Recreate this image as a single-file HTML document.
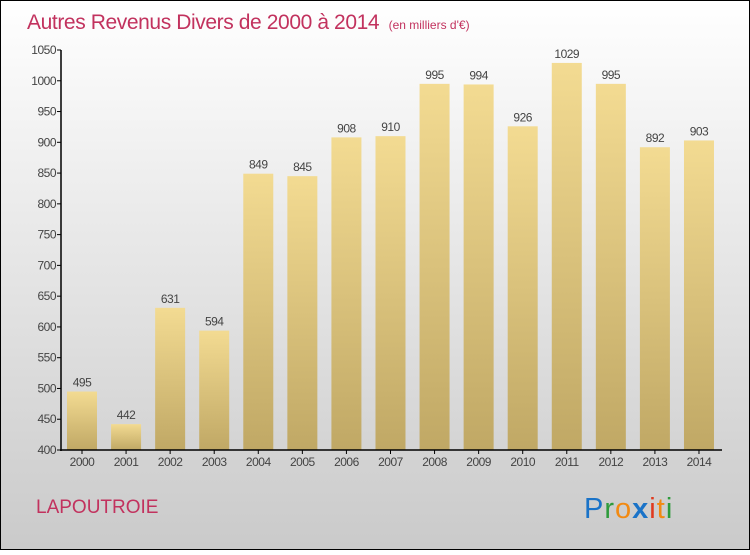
<!DOCTYPE html>
<html><head><meta charset="utf-8"><style>
body{margin:0;}
svg text{font-family:"Liberation Sans",sans-serif;}
</style></head><body>
<svg width="750" height="550" xmlns="http://www.w3.org/2000/svg">
<defs>
<linearGradient id="bg" x1="0" y1="0" x2="0" y2="1"><stop offset="0" stop-color="#ffffff"/><stop offset="1" stop-color="#cacaca"/></linearGradient>
<linearGradient id="bar" x1="0" y1="0" x2="0" y2="1"><stop offset="0" stop-color="#f3db92"/><stop offset="1" stop-color="#c0a865"/></linearGradient>
</defs>
<rect x="0.5" y="0.5" width="749" height="549" fill="url(#bg)" stroke="#000"/>
<text x="27" y="29" font-size="21" fill="#c2325e" letter-spacing="-0.4">Autres Revenus Divers de 2000 à 2014 <tspan font-size="12" dx="4" letter-spacing="0">(en milliers d'€)</tspan></text>
<g id="plot"></g>
<text x="36" y="513" font-size="19" fill="#c2325e">LAPOUTROIE</text>
<text x="584" y="518" font-size="29" letter-spacing="1"><tspan fill="#1a73c8">P</tspan><tspan fill="#2e9b3b">r</tspan><tspan fill="#f28a12">o</tspan><tspan fill="#1a73c8" font-weight="bold">x</tspan><tspan fill="#e03a1e">i</tspan><tspan fill="#f28a12">t</tspan><tspan fill="#2e9b3b">i</tspan></text>
</svg>
<script>
const years=["2000","2001","2002","2003","2004","2005","2006","2007","2008","2009","2010","2011","2012","2013","2014"];
const values=[495,442,631,594,849,845,908,910,995,994,926,1029,995,892,903];
const ticks=[400,450,500,550,600,650,700,750,800,850,900,950,1000,1050];
const NS="http://www.w3.org/2000/svg";
const g=document.getElementById('plot');
const y=v=>450-(v-400)*(400/650);
const x=i=>82+i*44.07;
function mk(t,a){const e=document.createElementNS(NS,t);for(const k in a)e.setAttribute(k,a[k]);g.appendChild(e);return e;}
ticks.forEach(t=>{
 const l=mk('line',{x1:57,x2:61,y1:y(t),y2:y(t),stroke:'#000'});
 
 
 const tx=mk('text',{x:56,y:y(t)+4,'font-size':12,'text-anchor':'end',fill:'#444','letter-spacing':'-0.5'});
 tx.textContent=t;
 
 
});
values.forEach((v,i)=>{
 const r=mk('rect',{x:x(i)-15,y:y(v),width:30,height:450-y(v),fill:'url(#bar)'});
 
 
 const vt=mk('text',{x:x(i),y:y(v)-5,'font-size':12,'text-anchor':'middle',fill:'#444','letter-spacing':'-0.5'});
 vt.textContent=v;
 
 
 const tk=mk('line',{x1:x(i),x2:x(i),y1:450,y2:454,stroke:'#000'});
 
 
 const xt=mk('text',{x:x(i),y:466,'font-size':12,'text-anchor':'middle',fill:'#444','letter-spacing':'-0.5'});
 xt.textContent=years[i];
 
 
});
const ya=mk('line',{x1:61,x2:61,y1:y(1050),y2:451,stroke:'#000','stroke-width':1.5});


const xa=mk('line',{x1:60,x2:722,y1:450,y2:450,stroke:'#000','stroke-width':1.5});


</script>
</body></html>
